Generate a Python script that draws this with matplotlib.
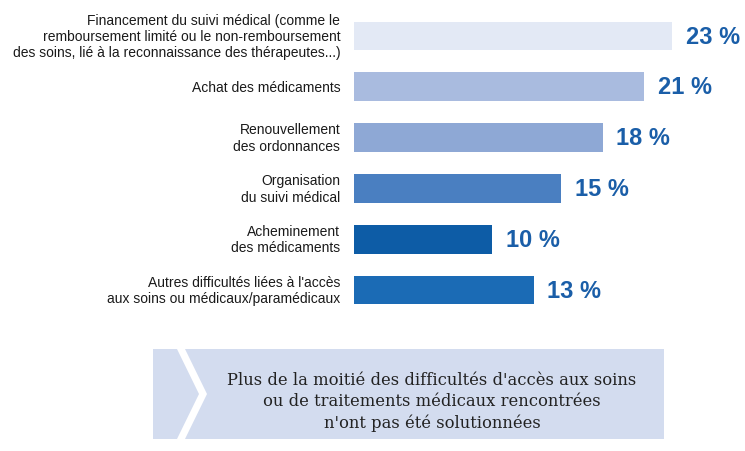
import matplotlib
matplotlib.use('Agg')
import matplotlib.pyplot as plt
from matplotlib.patches import Rectangle, Polygon

categories = [
    "Financement du suivi médical (comme le\nremboursement limité ou le non-remboursement\ndes soins, lié à la reconnaissance des thérapeutes...)",
    "Achat des médicaments",
    "Renouvellement\ndes ordonnances",
    "Organisation\ndu suivi médical",
    "Acheminement\ndes médicaments",
    "Autres difficultés liées à l'accès\naux soins ou médicaux/paramédicaux",
]
values = [23, 21, 18, 15, 10, 13]
bar_colors = ['#e3e9f5', '#a9bbdf', '#8ea8d5', '#4a7fc1', '#0d5ca6', '#1b6bb5']
note = "Plus de la moitié des difficultés d'accès aux soins\nou de traitements médicaux rencontrées\nn'ont pas été solutionnées"

W, H = 745, 452
fig = plt.figure(figsize=(W / 100, H / 100), dpi=100)

# main bar axes, placed in pixel terms
left, right, top, bottom = 354, 738, 11.6, 316.4
ax = fig.add_axes([left / W, 1 - bottom / H, (right - left) / W, (bottom - top) / H])
ypos = list(range(len(values)))
ax.barh(ypos, values, height=0.57, color=bar_colors)
ax.set_xlim(0, 27.8)
ax.set_ylim(len(values) - 0.5, -0.5)
ax.axis('off')

for y, v, cat in zip(ypos, values, categories):
    ax.text(-1.0, y, cat, ha='right', va='center', fontsize=10,
            family='Liberation Sans', color='#1a1a1a', linespacing=1.22)
    ax.text(v + 1.0, y, f"{v} %", ha='left', va='center', fontsize=17,
            family='Liberation Sans', fontweight='bold', color='#1a5ea8')

# overlay for the note box
ov = fig.add_axes([0, 0, 1, 1])
ov.set_xlim(0, W)
ov.set_ylim(H, 0)
ov.axis('off')
ov.add_patch(Rectangle((153, 350), 511, 90, color='#d3dcef', lw=0))
ov.add_patch(Polygon([(177, 350), (185, 350), (207, 395), (185, 440), (177, 440), (199, 395)],
                     closed=True, color='white', lw=0))
ov.text(432, 402, note, ha='center', va='center', fontsize=11.8,
        family='DejaVu Serif', color='#222222', linespacing=1.3)

fig.savefig('out.png', dpi=100)
